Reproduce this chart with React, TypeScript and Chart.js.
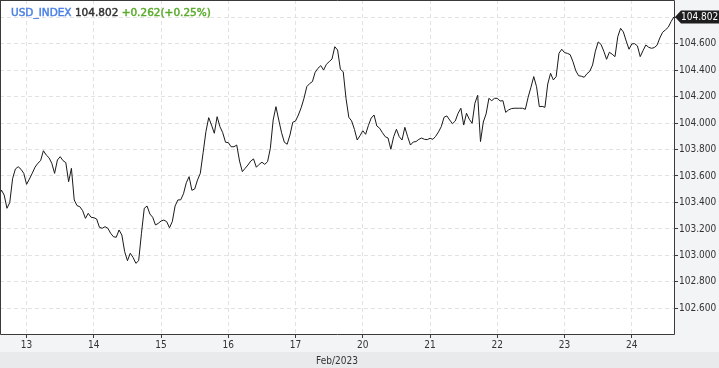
import React, { useEffect, useRef } from "react";
import { Chart, registerables } from "chart.js";

Chart.register(...registerables);

// ---- data ----
const symbolName = "USD_INDEX";
const lastPriceText = "104.802";
const changeText = "+0.262(+0.25%)";
const monthLabel = "Feb/2023";
const lastPrice = 104.802;

const dayLabels = ["13", "14", "15", "16", "17", "20", "21", "22", "23", "24"];
const dayStartHours = [10, 34, 58, 82, 106, 130, 154, 178, 202, 226];
const yTickValues = [102.6, 102.8, 103.0, 103.2, 103.4, 103.6, 103.8, 104.0, 104.2, 104.4, 104.6, 104.8];

// hourly closes (index = trading hour)
const prices = [
  103.431, 103.494, 103.456, 103.356, 103.400, 103.580, 103.653, 103.670, 103.651, 103.620,
  103.537, 103.577, 103.620, 103.666, 103.696, 103.716, 103.791, 103.759, 103.738, 103.696,
  103.620, 103.721, 103.746, 103.716, 103.701, 103.557, 103.658, 103.419, 103.376, 103.368,
  103.338, 103.280, 103.318, 103.288, 103.285, 103.275, 103.212, 103.205, 103.217, 103.205,
  103.167, 103.141, 103.137, 103.192, 103.154, 103.028, 102.960, 103.016, 102.985, 102.940,
  102.960, 103.167, 103.356, 103.373, 103.313, 103.288, 103.230, 103.242, 103.260, 103.267,
  103.255, 103.209, 103.255, 103.373, 103.419, 103.420, 103.466, 103.549, 103.595, 103.492,
  103.502, 103.570, 103.620, 103.776, 103.935, 104.041, 103.985, 103.923, 104.048, 103.973,
  103.927, 103.855, 103.852, 103.821, 103.821, 103.834, 103.713, 103.633, 103.658, 103.683,
  103.713, 103.729, 103.666, 103.688, 103.704, 103.688, 103.708, 103.809, 104.023, 104.124,
  104.023, 103.927, 103.855, 103.840, 103.910, 104.006, 104.016, 104.061, 104.116, 104.187,
  104.275, 104.298, 104.313, 104.384, 104.414, 104.434, 104.401, 104.444, 104.464, 104.484,
  104.577, 104.552, 104.406, 104.388, 104.187, 104.044, 104.016, 103.953, 103.872, 103.905,
  103.942, 103.915, 103.983, 104.038, 104.061, 103.978, 103.961, 103.927, 103.897, 103.887,
  103.802, 103.897, 103.953, 103.897, 103.872, 103.968, 103.897, 103.834, 103.857, 103.860,
  103.877, 103.887, 103.877, 103.875, 103.885, 103.877, 103.900, 103.933, 103.973, 104.044,
  104.054, 104.023, 103.995, 104.016, 104.074, 104.112, 103.985, 104.074, 104.029, 103.998,
  104.150, 104.210, 103.860, 104.008, 104.069, 104.187, 104.169, 104.187, 104.187, 104.167,
  104.169, 104.081, 104.099, 104.109, 104.112, 104.112, 104.112, 104.112, 104.104, 104.195,
  104.270, 104.351, 104.275, 104.124, 104.126, 104.119, 104.295, 104.376, 104.326, 104.351,
  104.527, 104.558, 104.532, 104.527, 104.517, 104.464, 104.396, 104.358, 104.354, 104.346,
  104.373, 104.391, 104.439, 104.543, 104.613, 104.595, 104.543, 104.482, 104.535, 104.520,
  104.502, 104.653, 104.716, 104.688, 104.620, 104.558, 104.598, 104.600, 104.583, 104.502,
  104.547, 104.590, 104.573, 104.565, 104.570, 104.588, 104.643, 104.686, 104.704, 104.724,
  104.766, 104.802,
];

const TICK_FONT = "'DejaVu Sans Condensed', 'Liberation Sans Narrow', 'DejaVu Sans', sans-serif";
const TITLE_FONT = "'DejaVu Sans', sans-serif";

const decorPlugin = {
  id: "decor",
  beforeDraw(chart: any) {
    const { ctx, chartArea: a, width, height } = chart;
    ctx.save();
    ctx.fillStyle = "#f3f4f6";
    ctx.fillRect(0, 0, width, height);
    ctx.fillStyle = "#e9eaec";
    ctx.fillRect(0, 352, width, height - 352);
    ctx.fillStyle = "#ffffff";
    ctx.fillRect(a.left, a.top, a.right - a.left, a.bottom - a.top);
    ctx.restore();
  },
  afterDraw(chart: any) {
    const { ctx, chartArea: a, scales } = chart;
    ctx.save();
    // frame
    ctx.strokeStyle = "#3a3a3a";
    ctx.lineWidth = 1;
    ctx.beginPath();
    ctx.moveTo(a.left + 0.5, a.top);
    ctx.lineTo(a.left + 0.5, a.bottom + 0.5);
    ctx.lineTo(a.right + 0.5, a.bottom + 0.5);
    ctx.lineTo(a.right + 0.5, a.top + 0.5);
    ctx.lineTo(a.left, a.top + 0.5);
    ctx.stroke();

    // title
    ctx.font = "10.5px " + TITLE_FONT;
    ctx.textBaseline = "alphabetic";
    ctx.textAlign = "left";
    ctx.lineWidth = 0.45;
    let x = 11;
    const by = 15.5;
    const parts: [string, string][] = [
      [symbolName + " ", "#4a80e6"],
      [lastPriceText + " ", "#333333"],
      [changeText, "#5aab2c"],
    ];
    for (const [t, c] of parts) {
      ctx.fillStyle = c;
      ctx.strokeStyle = c;
      ctx.fillText(t, x, by);
      ctx.strokeText(t, x, by);
      x += ctx.measureText(t).width;
    }

    // price tag
    const py = scales.y.getPixelForValue(lastPrice);
    const tx = a.right + 1;
    ctx.fillStyle = "#1e1e1e";
    ctx.beginPath();
    ctx.moveTo(tx, py);
    ctx.lineTo(tx + 6, py - 6.5);
    ctx.lineTo(chart.width, py - 6.5);
    ctx.lineTo(chart.width, py + 6.5);
    ctx.lineTo(tx + 6, py + 6.5);
    ctx.closePath();
    ctx.fill();
    ctx.fillStyle = "#ffffff";
    ctx.font = "10px " + TICK_FONT;
    ctx.textBaseline = "middle";
    ctx.fillText(lastPriceText, tx + 6, py + 0.5);

    // month label
    ctx.fillStyle = "#333333";
    ctx.textAlign = "center";
    ctx.fillText(monthLabel, (a.left + a.right) / 2, 361.5);
    ctx.restore();
  },
};

export default function App() {
  const ref = useRef<HTMLCanvasElement | null>(null);
  useEffect(() => {
    if (!ref.current) return;
    const data = prices.map((p, i) => ({ x: i, y: p }));
    const chart = new Chart(ref.current, {
      type: "line",
      data: {
        datasets: [
          {
            data,
            borderColor: "#1a1a1a",
            borderWidth: 1,
            pointRadius: 0,
            tension: 0,
            fill: false,
          },
        ],
      },
      options: {
        animation: false,
        responsive: false,
        devicePixelRatio: 1,
        layout: { padding: 0 },
        plugins: { legend: { display: false }, tooltip: { enabled: false }, title: { display: false } },
        scales: {
          x: {
            type: "linear",
            position: "bottom",
            min: 0.51,
            max: 241.06,
            afterBuildTicks: (s: any) => {
              s.ticks = dayStartHours.map((v) => ({ value: v }));
            },
            afterFit: (s: any) => {
              s.height = 34;
              s.paddingLeft = 0;
              s.paddingRight = 0;
            },
            grid: {
              color: "#e2e2e2",
              drawTicks: true,
              tickLength: 4,
              tickColor: "#3a3a3a",
              tickBorderDash: [],
            },
            border: { display: false, dash: [4, 3] },
            ticks: {
              autoSkip: false,
              maxRotation: 0,
              padding: 1,
              color: "#333333",
              font: { family: TICK_FONT, size: 10 },
              callback: (v: any) => {
                const i = dayStartHours.indexOf(Number(v));
                return i >= 0 ? dayLabels[i] : "";
              },
            },
          },
          y: {
            type: "linear",
            position: "right",
            min: 102.406,
            max: 104.93,
            afterBuildTicks: (s: any) => {
              s.ticks = yTickValues.map((v) => ({ value: v }));
            },
            afterFit: (s: any) => {
              s.width = 45;
              s.paddingTop = 0;
              s.paddingBottom = 0;
            },
            grid: {
              color: "#e2e2e2",
              drawTicks: true,
              tickLength: 4,
              tickColor: "#3a3a3a",
              tickBorderDash: [],
            },
            border: { display: false, dash: [4, 3] },
            ticks: {
              padding: 1,
              color: "#333333",
              font: { family: TICK_FONT, size: 10 },
              callback: (v: any) => Number(v).toFixed(3),
            },
          },
        },
      },
      plugins: [decorPlugin],
    } as any);
    return () => chart.destroy();
  }, []);
  return (
    <div style={{ position: "fixed", left: 0, top: 0, width: 719, height: 368 }}>
      <canvas ref={ref} width={719} height={368} style={{ width: 719, height: 368, display: "block" }} />
    </div>
  );
}
